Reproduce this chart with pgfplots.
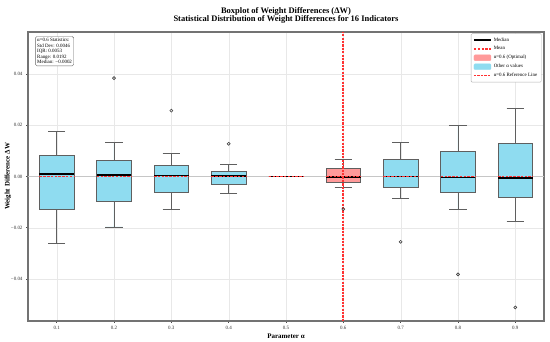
\documentclass[border=0pt]{standalone}
\usepackage{fontspec}
\setmainfont{Liberation Serif}
\usepackage{pgfplots}
\pgfplotsset{compat=1.18}
\usepgfplotslibrary{statistics}
\definecolor{boxblue}{RGB}{143,220,240}
\definecolor{boxred}{RGB}{255,154,154}
\definecolor{edgegray}{RGB}{95,95,95}
\definecolor{meanred}{RGB}{255,50,50}
\begin{document}
\begin{tikzpicture}
\useasboundingbox (-28bp,-21bp) rectangle (522bp,321bp);
\begin{axis}[
  at={(0,0)}, anchor=south west,
  scale only axis, width=516bp, height=289bp,
  xmin=0.05, xmax=0.95, ymin=-0.0564, ymax=0.0564,
  scaled y ticks=false, scaled x ticks=false,
  xtick={0.1,0.2,0.3,0.4,0.5,0.6,0.7,0.8,0.9},
  xticklabels={0.1,0.2,0.3,0.4,0.5,0.6,0.7,0.8,0.9},
  ytick={-0.04,-0.02,0,0.02,0.04},
  yticklabels={−0.04,−0.02,0.00,0.02,0.04},
  tick label style={font=\fontsize{5}{6}\selectfont, text=black!80},
  tick align=outside, major tick length=2pt, tick style={black!70, line width=0.5pt},
  xtick pos=left, ytick pos=left,
  grid=major, major grid style={gray!18, line width=0.3pt},
  axis line style={draw=black!55, line width=1.1pt},
  title={Boxplot of Weight Differences (ΔW)\\Statistical Distribution of Weight Differences for 16 Indicators},
  title style={font=\fontsize{8.5}{8.5}\selectfont\bfseries, align=center, at={(0.5,1)}, anchor=south, yshift=-1pt},
  xlabel={Parameter α},
  ylabel={Weight Difference ΔW},
  label style={font=\fontsize{7}{8}\selectfont\bfseries},
  xlabel style={yshift=3pt},
  ylabel style={yshift=-7pt},
  boxplot/draw direction=y,
  boxplot/every median/.style={black, line width=1.5pt},
  legend style={at={(0.995,0.995)}, anchor=north east, font=\fontsize{5}{6}\selectfont, draw=black!30, rounded corners=1pt, row sep=0pt, inner sep=2pt},
  legend cell align=left,
]
% zero line
\addplot[forget plot, gray!45, line width=0.7pt] coordinates {(0.05,0) (0.95,0)};
% boxes
\addplot[forget plot, fill=boxblue, draw=edgegray, line width=0.7pt, boxplot prepared={draw position=0.1, lower whisker=-0.02625, lower quartile=-0.0130, median=0.0009, upper quartile=0.00834, upper whisker=0.01755, box extend=0.06, whisker extend=0.03}] coordinates {};
\addplot[forget plot, fill=boxblue, draw=edgegray, line width=0.7pt, boxplot prepared={draw position=0.2, lower whisker=-0.0197, lower quartile=-0.0096, median=0.0005, upper quartile=0.00624, upper whisker=0.01326, box extend=0.06, whisker extend=0.03}] coordinates {};
\addplot[forget plot, fill=boxblue, draw=edgegray, line width=0.7pt, boxplot prepared={draw position=0.3, lower whisker=-0.0130, lower quartile=-0.00636, median=0.0004, upper quartile=0.0042, upper whisker=0.00897, box extend=0.06, whisker extend=0.03}] coordinates {};
\addplot[forget plot, fill=boxblue, draw=edgegray, line width=0.7pt, boxplot prepared={draw position=0.4, lower whisker=-0.0065, lower quartile=-0.0030, median=0.0002, upper quartile=0.00195, upper whisker=0.00456, box extend=0.06, whisker extend=0.03}] coordinates {};
\addplot[forget plot, fill=boxblue, draw=edgegray, line width=0.7pt, boxplot prepared={draw position=0.5, lower whisker=0, lower quartile=0, median=0, upper quartile=0, upper whisker=0, box extend=0.06, whisker extend=0.03}] coordinates {};
\addplot[forget plot, fill=boxred, draw=edgegray, line width=0.7pt, boxplot prepared={draw position=0.6, lower whisker=-0.0043, lower quartile=-0.0022, median=-0.0002, upper quartile=0.0031, upper whisker=0.0066, box extend=0.06, whisker extend=0.03}] coordinates {};
\addplot[forget plot, fill=boxblue, draw=edgegray, line width=0.7pt, boxplot prepared={draw position=0.7, lower whisker=-0.0087, lower quartile=-0.0041, median=-0.0001, upper quartile=0.0065, upper whisker=0.0133, box extend=0.06, whisker extend=0.03}] coordinates {};
\addplot[forget plot, fill=boxblue, draw=edgegray, line width=0.7pt, boxplot prepared={draw position=0.8, lower whisker=-0.0130, lower quartile=-0.0060, median=-0.0004, upper quartile=0.0098, upper whisker=0.0199, box extend=0.06, whisker extend=0.03}] coordinates {};
\addplot[forget plot, fill=boxblue, draw=edgegray, line width=0.7pt, boxplot prepared={draw position=0.9, lower whisker=-0.0174, lower quartile=-0.0082, median=-0.0006, upper quartile=0.0130, upper whisker=0.0267, box extend=0.06, whisker extend=0.03}] coordinates {};
% outliers
\addplot[forget plot, only marks, mark=o, mark size=1.5pt, draw=black!75, mark options={line width=0.6pt}] coordinates {(0.2,0.0384) (0.3,0.0257) (0.4,0.01275) (0.6,-0.0127) (0.7,-0.0255) (0.8,-0.0382) (0.9,-0.0511)};
% means
\addplot[forget plot, color=meanred, line width=1.5pt, dash pattern=on 2.5pt off 1.3pt] coordinates {(0.07,0) (0.13,0)};
\addplot[forget plot, color=meanred, line width=1.5pt, dash pattern=on 2.5pt off 1.3pt] coordinates {(0.17,0) (0.23,0)};
\addplot[forget plot, color=meanred, line width=1.5pt, dash pattern=on 2.5pt off 1.3pt] coordinates {(0.27,0) (0.33,0)};
\addplot[forget plot, color=meanred, line width=1.5pt, dash pattern=on 2.5pt off 1.3pt] coordinates {(0.37,0) (0.43,0)};
\addplot[forget plot, color=meanred, line width=1.5pt, dash pattern=on 2.5pt off 1.3pt] coordinates {(0.47,0) (0.53,0)};
\addplot[forget plot, color=meanred, line width=1.5pt, dash pattern=on 2.5pt off 1.3pt] coordinates {(0.57,0) (0.63,0)};
\addplot[forget plot, color=meanred, line width=1.5pt, dash pattern=on 2.5pt off 1.3pt] coordinates {(0.67,0) (0.73,0)};
\addplot[forget plot, color=meanred, line width=1.5pt, dash pattern=on 2.5pt off 1.3pt] coordinates {(0.77,0) (0.83,0)};
\addplot[forget plot, color=meanred, line width=1.5pt, dash pattern=on 2.5pt off 1.3pt] coordinates {(0.87,0) (0.93,0)};
% reference line
\addplot[forget plot, color=meanred, line width=1.8pt, dash pattern=on 2.2pt off 1.2pt] coordinates {(0.6,-0.0564) (0.6,0.0564)};
% legend
\addlegendimage{color=black, line width=1.2pt}
\addlegendentry{Median}
\addlegendimage{color=meanred, line width=1.2pt, dash pattern=on 2.5pt off 1.3pt}
\addlegendentry{Mean}
\addlegendimage{area legend, fill=boxred, draw=boxred}
\addlegendentry{α=0.6 (Optimal)}
\addlegendimage{area legend, fill=boxblue, draw=boxblue}
\addlegendentry{Other α values}
\addlegendimage{color=meanred, line width=1.6pt, dash pattern=on 2.2pt off 1.3pt}
\addlegendentry{α=0.6 Reference Line}
\node[anchor=north west, draw=black!60, fill=white, rounded corners=1.5pt, align=left, inner sep=1.8pt, font=\fontsize{5}{5.6}\selectfont] at (rel axis cs:0.014,0.985) {α=0.6 Statistics:\\Std Dev: 0.0046\\IQR: 0.0053\\Range: 0.0192\\Median: −0.0002};
\end{axis}
\end{tikzpicture}
\end{document}
